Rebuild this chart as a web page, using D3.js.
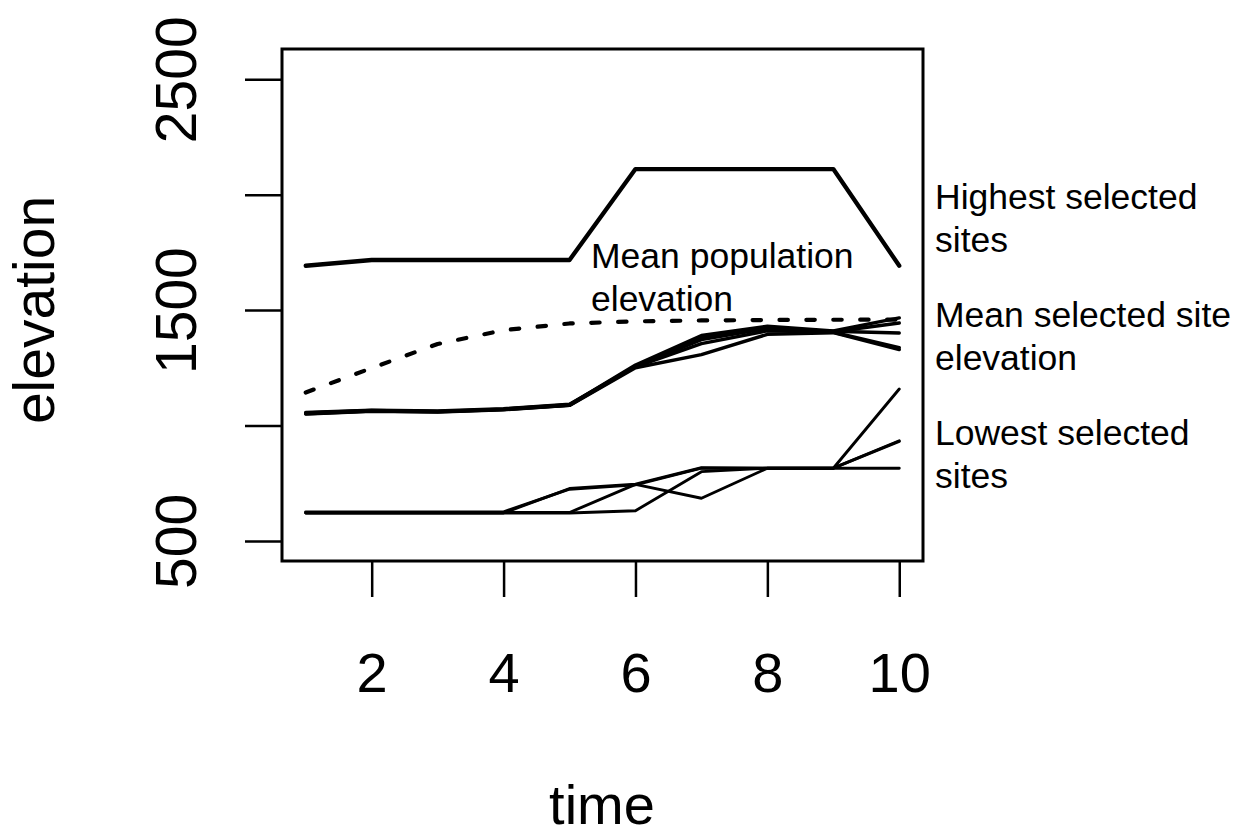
<!DOCTYPE html>
<html>
<head>
<meta charset="utf-8">
<script src="https://cdn.jsdelivr.net/npm/d3@7"></script>
<style>
  html, body { margin: 0; padding: 0; background: #fff; }
  svg { display: block; }
  text { font-family: "Liberation Sans", Arial, Helvetica, sans-serif; fill: #000; }
</style>
</head>
<body>
<svg id="chart" width="1239" height="837"></svg>
<script>
// Time steps
const time = [1, 2, 3, 4, 5, 6, 7, 8, 9, 10];

// Highest selected sites
const highest = [1692, 1717, 1717, 1717, 1717, 2111, 2111, 2111, 2111, 1692];

// Mean population elevation (dashed)
const meanPopulation = [1143, 1249, 1353, 1413, 1442, 1451, 1455, 1457, 1458, 1459];

// Mean selected site elevation, one series per run
const meanSelected1 = [1054, 1065, 1061, 1071, 1090, 1262, 1390, 1430, 1410, 1466];
const meanSelected2 = [1056, 1066, 1063, 1073, 1092, 1256, 1372, 1420, 1406, 1444];
const meanSelected3 = [1050, 1062, 1058, 1068, 1088, 1254, 1355, 1410, 1408, 1401];
const meanSelected4 = [1051, 1063, 1059, 1069, 1087, 1250, 1307, 1395, 1402, 1329];
const meanSelected5 = [1053, 1064, 1060, 1070, 1089, 1258, 1380, 1425, 1404, 1337];

// Lowest selected sites, one series per run
const lowest1 = [626, 626, 626, 626, 724, 743, 815, 815, 815, 1158];
const lowest2 = [621, 621, 621, 621, 727, 746, 817, 815, 815, 931];
const lowest3 = [623, 623, 623, 623, 623, 745, 685, 815, 815, 934];
const lowest4 = [621, 621, 621, 621, 621, 631, 800, 815, 815, 815];

// Axis ticks
const xTicks = [2, 4, 6, 8, 10];
const yTicks = [500, 1000, 1500, 2000, 2500];
const yTickLabels = ["500", "", "1500", "", "2500"];

// Line labels
const sideLabels = [
  ["Highest selected", "sites"],
  ["Mean selected site", "elevation"],
  ["Lowest selected", "sites"]
];
const popLabel = ["Mean population", "elevation"];

const svg = d3.select("#chart");

const box = { left: 282, right: 923, top: 49, bottom: 561 };

const x = d3.scaleLinear().domain([0.64, 10.36]).range([box.left, box.right]);
const y = d3.scaleLinear().domain([413, 2631]).range([box.bottom, box.top]);

const line = d3.line()
  .x((d, i) => x(time[i]))
  .y(d => y(d));

function drawSeries(values, width, dash) {
  const p = svg.append("path")
    .attr("d", line(values))
    .attr("fill", "none")
    .attr("stroke", "#000")
    .attr("stroke-width", width)
    .attr("stroke-linecap", "round")
    .attr("stroke-linejoin", "round");
  if (dash) p.attr("stroke-dasharray", dash);
}

drawSeries(highest, 4.3);
drawSeries(meanPopulation, 4.2, "8.4,18.5");
[meanSelected1, meanSelected2, meanSelected3, meanSelected4, meanSelected5]
  .forEach(s => drawSeries(s, 3.4));
[lowest1, lowest2, lowest3, lowest4].forEach(s => drawSeries(s, 2.9));

// Plot frame
svg.append("rect")
  .attr("x", box.left).attr("y", box.top)
  .attr("width", box.right - box.left).attr("height", box.bottom - box.top)
  .attr("fill", "none").attr("stroke", "#000").attr("stroke-width", 3);

// Bottom axis
const xAxis = d3.axisBottom(x).tickValues(xTicks).tickSize(36).tickPadding(14)
  .tickFormat(d3.format("d"));
const gx = svg.append("g").attr("transform", `translate(0,${box.bottom})`).call(xAxis);
gx.select(".domain").remove();
gx.selectAll(".tick line").attr("stroke", "#000").attr("stroke-width", 2.5);
gx.selectAll(".tick text")
  .attr("font-size", 56)
  .attr("font-family", "Liberation Sans, Arial, sans-serif")
  .attr("dy", null)
  .attr("y", 131)
  .attr("dominant-baseline", "auto");

// Left axis with rotated labels
const yAxis = d3.axisLeft(y).tickValues(yTicks).tickSize(37).tickFormat((d, i) => yTickLabels[i]);
const gy = svg.append("g").attr("transform", `translate(${box.left},0)`).call(yAxis);
gy.select(".domain").remove();
gy.selectAll(".tick line").attr("stroke", "#000").attr("stroke-width", 2.5);
gy.selectAll(".tick text")
  .attr("font-size", 57)
  .attr("font-family", "Liberation Sans, Arial, sans-serif")
  .attr("x", null).attr("dy", null)
  .attr("text-anchor", "middle")
  .attr("transform", "translate(-86,0) rotate(-90)");

// Axis titles
svg.append("text")
  .attr("x", (box.left + box.right) / 2 - 0.5)
  .attr("y", 824)
  .attr("text-anchor", "middle")
  .attr("font-size", 56)
  .text("time");

svg.append("text")
  .attr("transform", `translate(54,${(box.top + box.bottom) / 2 + 5}) rotate(-90)`)
  .attr("text-anchor", "middle")
  .attr("font-size", 57)
  .text("elevation");

// Series labels to the right of the frame
const sideBaselines = [209, 327, 445];
sideLabels.forEach((lines, k) => {
  lines.forEach((t, j) => {
    svg.append("text")
      .attr("x", 935)
      .attr("y", sideBaselines[k] + j * 43)
      .attr("font-size", 35.5)
      .text(t);
  });
});

// Label for the mean population curve
popLabel.forEach((t, j) => {
  svg.append("text")
    .attr("x", 591)
    .attr("y", 268 + j * 43)
    .attr("font-size", 35.5)
    .text(t);
});
</script>
</body>
</html>
